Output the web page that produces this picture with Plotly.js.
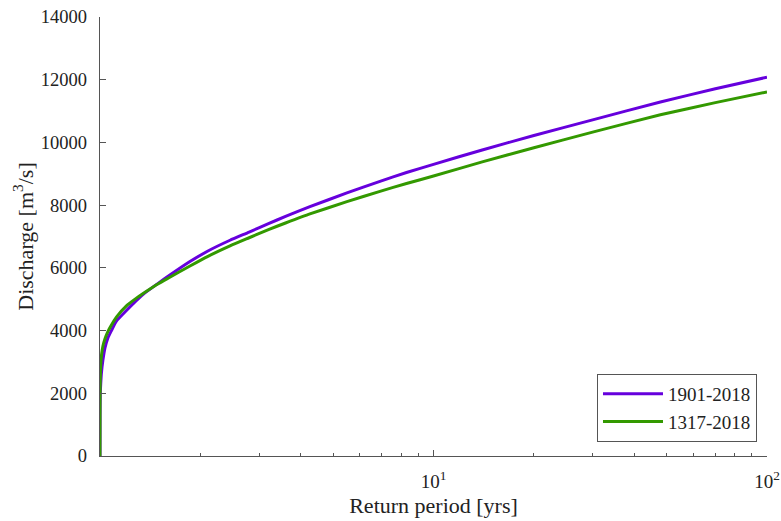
<!DOCTYPE html>
<html>
<head>
<meta charset="utf-8">
<script src="https://cdn.plot.ly/plotly-3.0.1.min.js"></script>
<style>html,body{margin:0;padding:0;background:#fff}</style>
</head>
<body>
<div id="chart" style="width:781px;height:521px"></div>
<script>
// Return period [yrs]
const returnPeriod = [1.0, 1.0005, 1.002, 1.005, 1.01, 1.02, 1.035, 1.055, 1.08, 1.12, 1.2, 1.28, 1.364, 1.5, 1.6, 1.861, 2.1, 2.454, 2.8, 3.2, 3.6, 4.26, 5.5, 6.91, 8.3, 10, 14, 20, 30, 47.9, 70, 100];
// Discharge [m3/s]
const q1901 = [0, 1300, 2000, 2300, 2650, 3050, 3450, 3750, 3980, 4300, 4640, 4940, 5200, 5520, 5730, 6200, 6530, 6880, 7140, 7410, 7640, 7950, 8390, 8760, 9040, 9300, 9760, 10220, 10720, 11290, 11710, 12080];
const q1317 = [0, 1900, 2500, 2900, 3200, 3500, 3740, 3960, 4160, 4430, 4790, 5020, 5220, 5500, 5670, 6060, 6360, 6700, 6960, 7220, 7430, 7720, 8110, 8440, 8690, 8930, 9380, 9830, 10330, 10880, 11270, 11610];
const seriesNames = ['1901-2018', '1317-2018'];
const xTickVals = [10, 100];
const xTickText = ['10<sup>1</sup>', '10<sup>2</sup>'];
const xMinorVals = [2,3,4,5,6,7,8,9,20,30,40,50,60,70,80,90];
const yTickVals = [0, 2000, 4000, 6000, 8000, 10000, 12000, 14000];
const yTickText = ['0', '2000', '4000', '6000', '8000', '10000', '12000', '14000'];

const font = '"Liberation Serif", "Times New Roman", serif';
const traces = [
  {x: returnPeriod, y: q1901, name: seriesNames[0], mode: 'lines', line: {color: '#6600dd', width: 3, shape: 'spline', smoothing: 0.5}},
  {x: returnPeriod, y: q1317, name: seriesNames[1], mode: 'lines', line: {color: '#339900', width: 3, shape: 'spline', smoothing: 0.5}}
];
const layout = {
  width: 781, height: 521,
  margin: {l: 100, r: 14, t: 17, b: 65},
  paper_bgcolor: '#fff', plot_bgcolor: '#fff',
  font: {family: font, size: 18, color: '#222'},
  showlegend: true,
  legend: {x: 0.985, xanchor: 'right', y: 0.032, yanchor: 'bottom',
           bordercolor: '#555', borderwidth: 1, bgcolor: '#fff', itemwidth: 60,
           font: {family: font, size: 19, color: '#222'}, tracegroupgap: 0},
  xaxis: {type: 'log', range: [0, 2], tickmode: 'array', tickvals: xTickVals, ticktext: xTickText,
          ticks: 'inside', ticklen: 6, tickcolor: '#555', showline: true, linecolor: '#555', linewidth: 1.3,
          showgrid: false, zeroline: false, mirror: false,
          minor: {tickmode: 'array', tickvals: xMinorVals, ticks: 'inside', ticklen: 3, tickcolor: '#555', showgrid: false},
          tickfont: {family: font, size: 19, color: '#222'}, ticklabelstandoff: 8,
          title: {text: 'Return period [yrs]', font: {family: font, size: 22, color: '#222'}, standoff: 6}},
  yaxis: {range: [0, 14000], tickmode: 'array', tickvals: yTickVals, ticktext: yTickText,
          ticks: 'inside', ticklen: 6, tickcolor: '#555', showline: true, linecolor: '#555', linewidth: 1.3,
          showgrid: false, zeroline: false,
          tickfont: {family: font, size: 18.5, color: '#222'}, ticklabelstandoff: 8,
          title: {text: 'Discharge [m<sup>3</sup>/s]', font: {family: font, size: 22, color: '#222'}, standoff: 1}}
};
Plotly.newPlot('chart', traces, layout, {displayModeBar: false, staticPlot: true});
</script>
</body>
</html>
